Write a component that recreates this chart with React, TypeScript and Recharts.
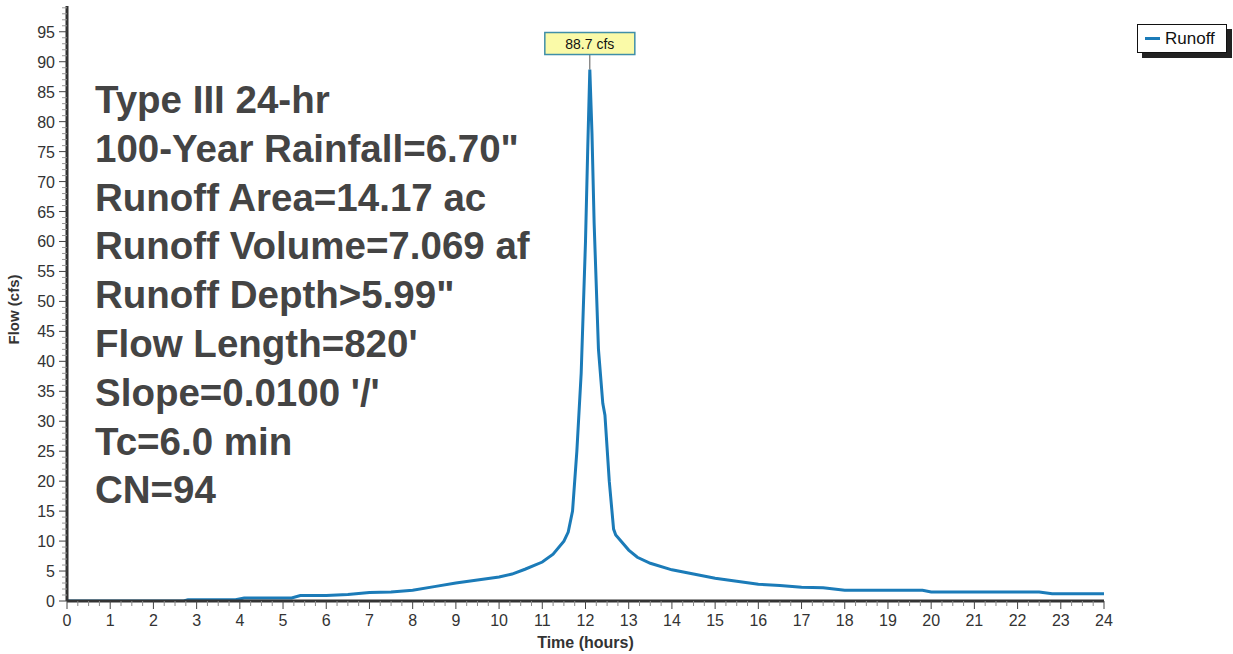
import React from "react";
import {
  LineChart, Line, XAxis, YAxis, ReferenceDot,
} from "recharts";

// hydrograph samples (hours, cfs)
const hours = [
  0, 2.7, 2.8, 3.9, 4.1, 5.2, 5.4, 6, 6.5, 7, 7.5, 8, 8.5, 9, 9.5, 10, 10.3, 10.6,
  11, 11.25, 11.5, 11.6, 11.7, 11.8, 11.9, 12.0, 12.05, 12.1, 12.15, 12.2, 12.3,
  12.4, 12.45, 12.55, 12.65, 12.7, 13, 13.2, 13.5, 14, 14.5, 15, 15.5, 16, 16.5,
  17, 17.5, 18, 19, 19.8, 20, 21, 22, 22.5, 22.8, 24,
];
const runoff = [
  0, 0, 0.2, 0.2, 0.5, 0.5, 0.9, 0.9, 1.1, 1.4, 1.5, 1.8, 2.4, 3.0, 3.5, 4.0, 4.5, 5.3,
  6.5, 7.8, 10, 11.5, 15, 25, 38, 60, 75, 88.7, 78, 63, 42,
  33, 31, 20, 12, 11, 8.5, 7.3, 6.3, 5.2, 4.5, 3.8, 3.3, 2.8, 2.6,
  2.3, 2.2, 1.8, 1.8, 1.8, 1.5, 1.5, 1.5, 1.5, 1.2, 1.2,
];

// every quarter hour gets a tick, whole hours get a label
const xTicks = Array.from({ length: 97 }, (_, i) => i * 0.25);
// every 1 cfs gets a tick, every 5 gets a label
const yTicks = Array.from({ length: 100 }, (_, i) => i);

const infoLines = [
  "Type III 24-hr",
  "100-Year Rainfall=6.70\"",
  "Runoff Area=14.17 ac",
  "Runoff Volume=7.069 af",
  "Runoff Depth>5.99\"",
  "Flow Length=820'",
  "Slope=0.0100 '/'",
  "Tc=6.0 min",
  "CN=94",
];

const peak = { x: 12.1, y: 88.7, label: "88.7 cfs" };

const rows = hours.map((h, i) => ({ t: h, q: runoff[i] }));

const FONT = "'Liberation Sans', Arial, sans-serif";
const BLUE = "#1b7bb8";

function PeakTag(props: any) {
  const { cx, cy } = props;
  const w = 90, h = 22;
  return (
    <g>
      <line x1={cx} y1={cy} x2={cx} y2={cy - 15} stroke="#555" strokeWidth={1} />
      <rect x={cx - w / 2} y={cy - 15 - h} width={w} height={h} fill="#fafaa8" stroke="#3f8fa8" strokeWidth={1.5} />
      <text x={cx} y={cy - 15 - h / 2 + 5} textAnchor="middle" fontSize={14} fontFamily={FONT} fill="#111">
        {peak.label}
      </text>
    </g>
  );
}

function XTick(props: any) {
  const { x, y, payload } = props;
  const v = payload.value as number;
  const major = Number.isInteger(v);
  return (
    <g>
      <line x1={x} y1={y} x2={x} y2={y + (major ? 8 : 5)} stroke={major ? "#444" : "#888"} strokeWidth={1} />
      {major && (
        <text x={x} y={y + 25} textAnchor="middle" fontSize={16} fontFamily={FONT} fill="#333">{v}</text>
      )}
    </g>
  );
}

function YTick(props: any) {
  const { x, y, payload } = props;
  const v = payload.value as number;
  const major = v % 5 === 0;
  return (
    <g>
      <line x1={x} y1={y} x2={x - (major ? 8 : 5)} y2={y} stroke={major ? "#444" : "#999"} strokeWidth={1} />
      {major && (
        <text x={x - 12} y={y + 6} textAnchor="end" fontSize={16} fontFamily={FONT} fill="#333">{v}</text>
      )}
    </g>
  );
}

export default function App() {
  return (
    <div style={{ position: "absolute", left: 0, top: 0, width: 1233, height: 654, background: "#fff", fontFamily: FONT }}>
      <LineChart width={1233} height={654} data={rows} margin={{ top: 6, right: 129, left: 12, bottom: 23 }}>
        <XAxis
          dataKey="t" type="number" domain={[0, 24]} ticks={xTicks} interval={0}
          tick={XTick} tickSize={0} tickMargin={0} tickLine={false}
          axisLine={{ stroke: "#333", strokeWidth: 3 }} height={30}
          label={{ value: "Time  (hours)", position: "insideBottom", offset: -17, fontSize: 16, fontWeight: "bold", fill: "#333", fontFamily: FONT, style: { whiteSpace: "pre" } }}
        />
        <XAxis
          xAxisId="top" orientation="top" dataKey="t" type="number" domain={[0, 24]}
          tick={false} tickLine={false} axisLine={{ stroke: "#777", strokeWidth: 1.5 }} height={0}
        />
        <YAxis
          type="number" domain={[0, 99.3]} ticks={yTicks} interval={0} allowDataOverflow
          tick={YTick} tickSize={0} tickMargin={0} tickLine={false} width={55}
          axisLine={{ stroke: "#333", strokeWidth: 3 }}
          label={{ value: "Flow (cfs)", angle: -90, position: "insideLeft", offset: 2, dy: 6, fontSize: 15, fontWeight: "bold", fill: "#333", fontFamily: FONT, style: { textAnchor: "middle" } }}
        />
        <YAxis
          yAxisId="right" orientation="right" type="number" domain={[0, 99.3]}
          tick={false} tickLine={false} width={0} axisLine={{ stroke: "#777", strokeWidth: 1.5 }}
        />
        <Line
          dataKey="q" type="linear" stroke={BLUE} strokeWidth={3} dot={false}
          isAnimationActive={false} name="Runoff"
        />
        <ReferenceDot x={peak.x} y={peak.y} r={0} shape={PeakTag} />
      </LineChart>

      <div
        style={{
          position: "absolute", left: 95, top: 76, color: "#444", fontWeight: "bold",
          fontSize: 38.5, lineHeight: "48.8px", whiteSpace: "pre",
        }}
      >
        {infoLines.map((s) => <div key={s}>{s}</div>)}
      </div>

      <div
        style={{
          position: "absolute", left: 1137, top: 24, width: 88, height: 27,
          border: "1px solid #111", background: "#fff", boxShadow: "5px 5px 0 #222",
          display: "flex", alignItems: "center", fontSize: 17, color: "#111",
        }}
      >
        <span style={{ display: "inline-block", width: 15, height: 3, background: BLUE, margin: "0 5px 0 7px" }} />
        Runoff
      </div>
    </div>
  );
}
